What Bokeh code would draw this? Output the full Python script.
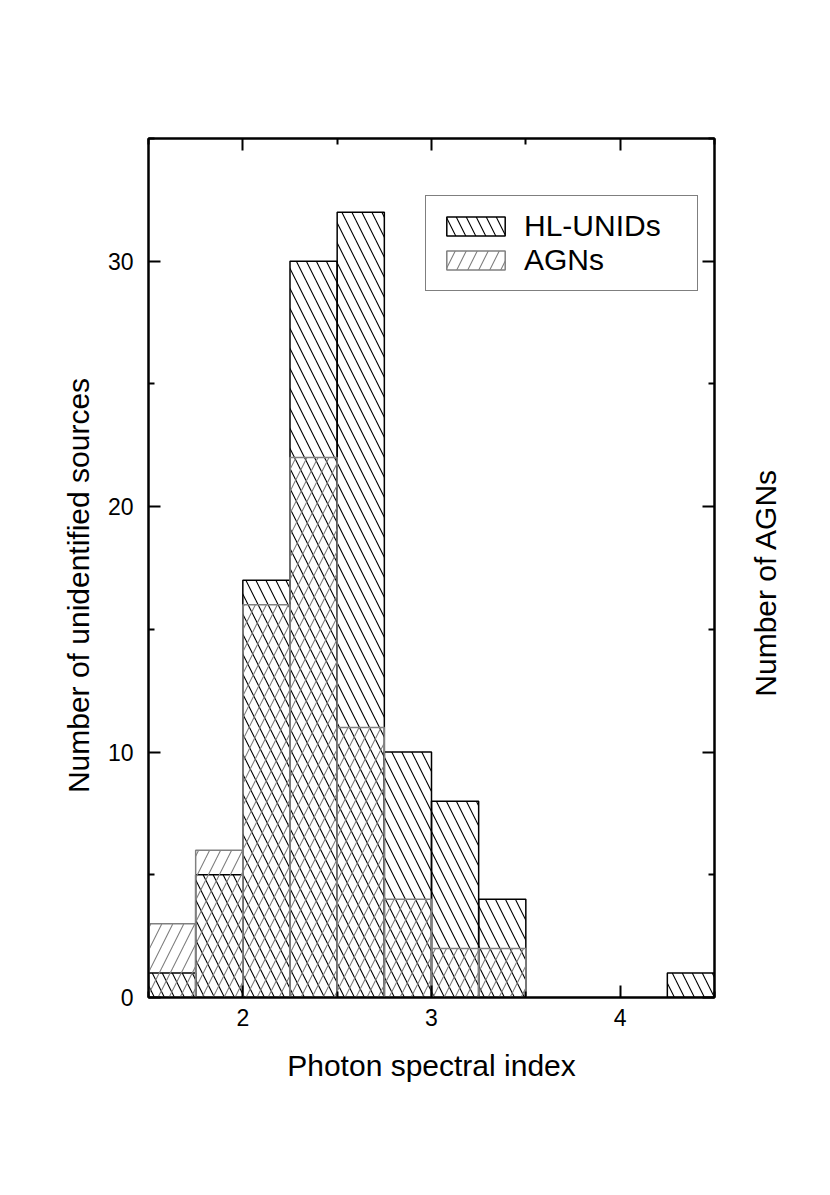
import math
from bokeh.plotting import figure
from bokeh.layouts import row
from bokeh.models import (Range1d, LinearAxis, Legend, LegendItem, ColumnDataSource,
                          FixedTicker, CustomLabelingPolicy, Label)
from bokeh.embed import file_html
from bokeh.resources import INLINE

# ---- data ----
bin_left = [1.5, 1.75, 2.0, 2.25, 2.5, 2.75, 3.0, 3.25, 3.5, 3.75, 4.0, 4.25]
bin_width = 0.25
hl_unids = [1, 5, 17, 30, 32, 10, 8, 4, 0, 0, 0, 1]
agns = [3, 6, 16, 22, 11, 4, 2, 2, 0, 0, 0, 0]
x_ticks = [2, 3, 4]
x_minor = [1.5, 2.5, 3.5, 4.5]
y_ticks = [0, 10, 20, 30]
y_minor = [5, 15, 25, 35]
x_title = "Photon spectral index"
y_title_left = "Number of unidentified sources"
y_title_right = "Number of AGNs"

FONT = "Liberation Sans"
TITLE_SIZE = "30px"
H = 1160

def src(counts):
    l = [b for b, c in zip(bin_left, counts) if c > 0]
    r = [b + bin_width for b, c in zip(bin_left, counts) if c > 0]
    t = [c for c in counts if c > 0]
    return ColumnDataSource(dict(left=l, right=r, top=t, bottom=[0] * len(t)))

p = figure(width=635, height=H, output_backend="svg", toolbar_location=None,
           x_range=Range1d(1.5, 4.5), y_range=Range1d(0, 35),
           min_border_left=48, min_border_right=21, min_border_top=138, min_border_bottom=163,
           x_axis_label=x_title)
p.xgrid.visible = False
p.ygrid.visible = False
p.outline_line_color = "black"
p.outline_line_width = 2
p.background_fill_color = "white"
p.border_fill_color = "white"

hl = p.quad(left="left", right="right", top="top", bottom="bottom", source=src(hl_unids),
            fill_color=None, line_color="black", line_width=1.5,
            hatch_pattern="\\", hatch_color="black", hatch_scale=20, hatch_weight=1.1)
ag = p.quad(left="left", right="right", top="top", bottom="bottom", source=src(agns),
            fill_color=None, line_color="#808080", line_width=1.5,
            hatch_pattern="/", hatch_color="#808080", hatch_scale=22, hatch_weight=1.1)

def style(ax, labels=True):
    ax.axis_line_color = "black"
    ax.axis_line_width = 2
    ax.major_tick_in = 12
    ax.major_tick_out = 0
    ax.minor_tick_in = 6
    ax.minor_tick_out = 0
    ax.major_tick_line_width = 2
    ax.minor_tick_line_width = 2
    ax.major_tick_line_color = "black"
    ax.minor_tick_line_color = "black"
    ax.major_label_text_font = FONT
    ax.major_label_text_font_size = "23px"
    ax.major_label_text_color = "black"
    ax.axis_label_text_font = FONT
    ax.axis_label_text_font_size = TITLE_SIZE
    ax.axis_label_text_font_style = "normal"
    ax.axis_label_text_color = "black"
    if not labels:
        ax.major_label_policy = CustomLabelingPolicy(code="return []")
        ax.major_label_text_font_size = "0px"
        ax.major_label_standoff = 0

bx = p.xaxis[0]
bx.ticker = FixedTicker(ticks=x_ticks, minor_ticks=x_minor)
style(bx)
bx.major_label_standoff = 11
bx.axis_label_standoff = 20

ly = p.yaxis[0]
ly.ticker = FixedTicker(ticks=y_ticks, minor_ticks=y_minor)
style(ly)
ly.major_label_standoff = 15

top_ax = LinearAxis(ticker=FixedTicker(ticks=x_ticks, minor_ticks=x_minor))
style(top_ax, labels=False)
p.add_layout(top_ax, "above")

right_ax = LinearAxis(ticker=FixedTicker(ticks=y_ticks, minor_ticks=y_minor))
style(right_ax, labels=False)
p.add_layout(right_ax, "right")

legend = Legend(items=[LegendItem(label="HL-UNIDs", renderers=[hl]),
                       LegendItem(label="AGNs", renderers=[ag])],
                location=(277, 706))
legend.glyph_width = 73
legend.glyph_height = 24
legend.label_height = 24
legend.label_width = 160
legend.label_standoff = 12
legend.spacing = 0
legend.padding = 13
legend.label_text_font = FONT
legend.label_text_font_size = TITLE_SIZE
legend.label_text_color = "black"
legend.border_line_color = "black"
legend.border_line_width = 1.5
legend.background_fill_color = "white"
legend.background_fill_alpha = 1.0
legend.margin = 0
p.add_layout(legend, "center")

# side strips carrying the vertical axis titles (their frames align with the main frame)
def side_strip(width, text, sx, sy):
    f = figure(width=width, height=H, output_backend="svg", toolbar_location=None,
               x_range=Range1d(0, 1), y_range=Range1d(0, 1),
               x_axis_location=None, y_axis_location=None,
               min_border=0, min_border_left=0, min_border_right=0,
               min_border_top=0, min_border_bottom=0)
    f.xgrid.visible = False
    f.ygrid.visible = False
    f.outline_line_color = None
    f.background_fill_color = "white"
    f.border_fill_color = "white"
    f.add_layout(Label(x=sx, y=sy, x_units="screen", y_units="screen", text=text,
                       angle=math.pi / 2, text_align="center", text_baseline="middle",
                       text_font=FONT, text_font_size=TITLE_SIZE, text_color="black"))
    return f

left_strip = side_strip(100, y_title_left, 78, 412)
right_strip = side_strip(75, y_title_right, 30, 415)

layout = row(left_strip, p, right_strip, spacing=0)

open("out.html", "w").write(file_html(layout, INLINE))
